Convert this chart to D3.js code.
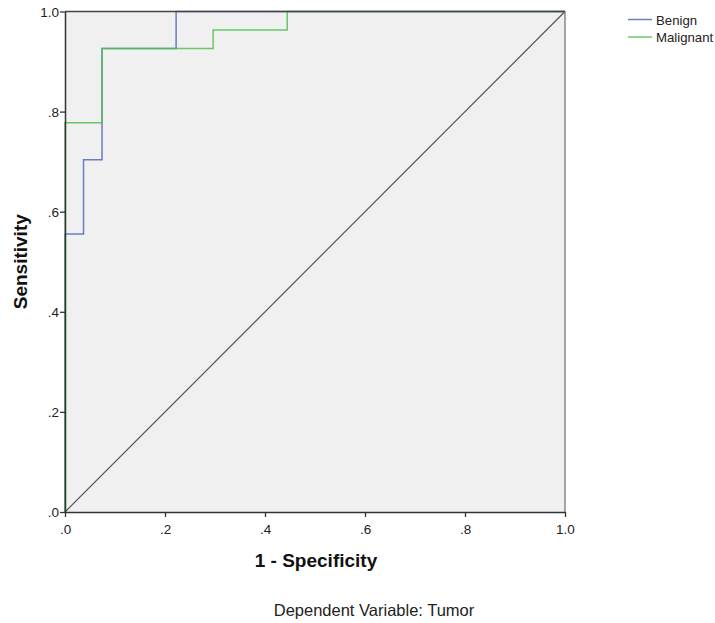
<!DOCTYPE html>
<html><head><meta charset="utf-8">
<script src="https://cdn.jsdelivr.net/npm/d3@7"></script>
<style>body{margin:0;background:#fff;} text{font-family:"Liberation Sans",Arial,sans-serif;}</style>
</head><body><svg id="c" width="715" height="623"></svg>
<script>
const benignX = [0, 0, 1/27, 1/27, 2/27, 2/27, 6/27, 6/27, 1];
const benignY = [0, 15/27, 15/27, 19/27, 19/27, 25/27, 25/27, 1, 1];
const malignantX = [0, 0, 2/27, 2/27, 8/27, 8/27, 12/27, 12/27, 1];
const malignantY = [0, 21/27, 21/27, 25/27, 25/27, 26/27, 26/27, 1, 1];
const tickValues = [0, 0.2, 0.4, 0.6, 0.8, 1.0];
const tickLabels = [".0", ".2", ".4", ".6", ".8", "1.0"];
const seriesNames = ["Benign", "Malignant"];
const seriesColors = ["#5068c0", "#50c050"];

const svg = d3.select("#c");
const L = 65, R = 565, T = 11.5, B = 512;
const x = d3.scaleLinear().domain([0, 1]).range([L, R]);
const y = d3.scaleLinear().domain([0, 1]).range([B, T]);

svg.append("rect").attr("x", L).attr("y", T).attr("width", R - L).attr("height", B - T)
  .attr("fill", "#f0f0f0").attr("stroke", "none");

// diagonal
svg.append("line").attr("x1", x(0)).attr("y1", y(0)).attr("x2", x(1)).attr("y2", y(1))
  .attr("stroke", "#555").attr("stroke-width", 1.2);

const line = d3.line().x(d => x(d[0])).y(d => y(d[1]));
const series = [d3.zip(benignX, benignY), d3.zip(malignantX, malignantY)];
series.forEach((s, i) => {
  svg.append("path").datum(s).attr("d", line).attr("fill", "none")
    .attr("stroke", seriesColors[i]).attr("stroke-width", 1.5).attr("stroke-opacity", 0.85);
});
svg.append("line").attr("x1", R).attr("x2", R).attr("y1", T).attr("y2", B).attr("stroke", "#777").attr("stroke-width", 1.3);
svg.append("line").attr("x1", L).attr("x2", R).attr("y1", T).attr("y2", T).attr("stroke", "#444").attr("stroke-width", 1.4);

const fmt = d => tickLabels[tickValues.indexOf(d)];
const xAxis = svg.append("g").attr("transform", `translate(0,${B})`)
  .call(d3.axisBottom(x).tickValues(tickValues).tickFormat(fmt).tickSize(5).tickSizeOuter(0));
const yAxis = svg.append("g").attr("transform", `translate(${L},0)`)
  .call(d3.axisLeft(y).tickValues(tickValues).tickFormat(fmt).tickSize(5).tickSizeOuter(0));
[xAxis, yAxis].forEach(a => {
  a.select(".domain").attr("stroke", "#333").attr("stroke-width", 1.5);
  a.selectAll(".tick line").attr("stroke", "#333").attr("stroke-width", 1.3);
  a.selectAll(".tick text").attr("fill", "#222").style("font-size", "13.5px").style("font-family", '"Liberation Sans",Arial,sans-serif');
});
xAxis.selectAll(".tick text").attr("y", 22).attr("dy", 0);
yAxis.selectAll(".tick text").attr("x", -6).attr("dy", "0.36em");

svg.append("text").attr("x", 316).attr("y", 567).attr("text-anchor", "middle")
  .style("font-size", "19px").style("font-weight", "bold").attr("fill", "#111").text("1 - Specificity");
svg.append("text").attr("transform", `translate(27,${(T + B) / 2}) rotate(-90)`).attr("text-anchor", "middle")
  .style("font-size", "19px").style("font-weight", "bold").attr("fill", "#111").text("Sensitivity");
svg.append("text").attr("x", 374).attr("y", 616).attr("text-anchor", "middle")
  .style("font-size", "16.5px").attr("fill", "#222").text("Dependent Variable: Tumor");

// legend
seriesNames.forEach((n, i) => {
  const ly = 19.5 + i * 17.5;
  svg.append("line").attr("x1", 628).attr("x2", 652).attr("y1", ly).attr("y2", ly)
    .attr("stroke", seriesColors[i]).attr("stroke-width", 1.5).attr("stroke-opacity", 0.85);
  svg.append("text").attr("x", 656).attr("y", ly + 5).style("font-size", "13.2px").attr("fill", "#222").text(n);
});
</script></body></html>
